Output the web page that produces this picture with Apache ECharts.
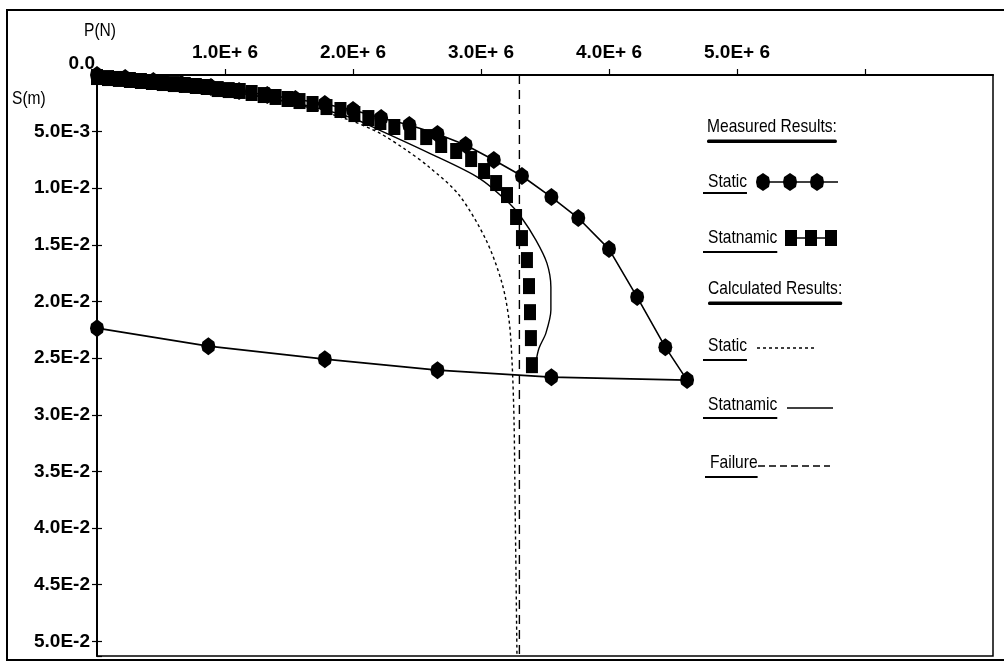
<!DOCTYPE html>
<html>
<head>
<meta charset="utf-8">
<script src="https://cdn.jsdelivr.net/npm/echarts@6/dist/echarts.min.js"></script>
<style>
html, body { margin: 0; padding: 0; background: #fff; }
#chart { width: 1004px; height: 663px; }
</style>
</head>
<body>
<div id="chart"></div>
<script>
// Load P in N, settlement S in m.

// Measured static load test (loading, then unloading)
const measuredStaticP = [0, 0.22e6, 0.44e6, 0.66e6, 0.89e6, 1.11e6, 1.33e6, 1.55e6, 1.78e6, 2.00e6,
  2.22e6, 2.44e6, 2.66e6, 2.88e6, 3.10e6, 3.32e6, 3.55e6, 3.76e6, 4.00e6, 4.22e6, 4.44e6, 4.61e6,
  3.55e6, 2.66e6, 1.78e6, 0.87e6, 0];
const measuredStaticS = [0, 0.27e-3, 0.53e-3, 0.80e-3, 1.06e-3, 1.41e-3, 1.77e-3, 2.12e-3, 2.56e-3, 3.09e-3,
  3.80e-3, 4.42e-3, 5.21e-3, 6.18e-3, 7.51e-3, 8.92e-3, 10.78e-3, 12.63e-3, 15.37e-3, 19.61e-3, 24.03e-3, 26.94e-3,
  26.68e-3, 26.06e-3, 25.09e-3, 23.94e-3, 22.35e-3];

// Measured statnamic test
const measuredStatnamicP = [0, 0.086e6, 0.171e6, 0.257e6, 0.343e6, 0.429e6, 0.514e6, 0.600e6, 0.686e6, 0.772e6,
  0.857e6, 0.943e6, 1.029e6, 1.115e6, 1.208e6, 1.302e6, 1.395e6, 1.489e6, 1.582e6, 1.684e6,
  1.793e6, 1.902e6, 2.011e6, 2.120e6, 2.214e6, 2.323e6, 2.447e6, 2.572e6, 2.689e6, 2.806e6,
  2.923e6, 3.024e6, 3.118e6, 3.203e6, 3.274e6, 3.320e6, 3.359e6, 3.375e6, 3.383e6, 3.390e6, 3.398e6];
const measuredStatnamicS = [0.18e-3, 0.27e-3, 0.35e-3, 0.44e-3, 0.53e-3, 0.62e-3, 0.71e-3, 0.80e-3, 0.88e-3, 0.97e-3,
  1.06e-3, 1.24e-3, 1.33e-3, 1.41e-3, 1.59e-3, 1.77e-3, 1.94e-3, 2.12e-3, 2.30e-3, 2.56e-3,
  2.83e-3, 3.09e-3, 3.45e-3, 3.80e-3, 4.15e-3, 4.59e-3, 5.04e-3, 5.48e-3, 6.18e-3, 6.71e-3,
  7.42e-3, 8.48e-3, 9.54e-3, 10.60e-3, 12.54e-3, 14.40e-3, 16.34e-3, 18.64e-3, 20.94e-3, 23.23e-3, 25.62e-3];

// Calculated static curve
const calcStaticP = [0, 0.413e6, 0.803e6, 1.193e6, 1.582e6, 1.972e6, 2.206e6, 2.416e6, 2.595e6, 2.829e6,
  3.040e6, 3.164e6, 3.219e6, 3.242e6, 3.258e6, 3.266e6, 3.274e6, 3.281e6];
const calcStaticS = [0, 0.44e-3, 0.97e-3, 1.68e-3, 2.65e-3, 3.98e-3, 5.12e-3, 6.63e-3, 8.13e-3, 10.60e-3,
  14.58e-3, 18.37e-3, 21.64e-3, 25.18e-3, 30.48e-3, 37.54e-3, 44.61e-3, 51.33e-3];

// Calculated statnamic curve
const calcStatnamicP = [0, 0.803e6, 1.582e6, 1.972e6, 2.206e6, 2.595e6, 2.985e6, 3.219e6, 3.313e6, 3.429e6,
  3.515e6, 3.546e6, 3.546e6, 3.507e6, 3.453e6, 3.429e6];
const calcStatnamicS = [0.09e-3, 1.06e-3, 2.56e-3, 3.71e-3, 4.86e-3, 6.89e-3, 9.10e-3, 11.31e-3, 12.54e-3, 14.58e-3,
  16.61e-3, 18.73e-3, 20.76e-3, 22.79e-3, 24.12e-3, 25.35e-3];

// Failure load
const failureLoad = 3.30e6;

// Axis ranges and tick labels
const xMax = 7e6, xStep = 1e6;
const yMax = 0.0513, yStep = 0.005;
const xTickLabels = ['0.0', '1.0E+ 6', '2.0E+ 6', '3.0E+ 6', '4.0E+ 6', '5.0E+ 6', '', ''];
const yTickLabels = ['', '5.0E-3', '1.0E-2', '1.5E-2', '2.0E-2', '2.5E-2', '3.0E-2', '3.5E-2', '4.0E-2', '4.5E-2', '5.0E-2'];

const pairs = (xs, ys) => xs.map((x, i) => [x, ys[i]]);

const FONT = "'Liberation Sans', Arial, sans-serif";
const NARROW_SCALE = 0.82;   // condensed look for the legend and axis titles
const diamondPath = 'path://M0,-10 L6,-5 L7,0 L6,5 L0,10 L-6,5 L-7,0 L-6,-5 Z';

const chart = echarts.init(document.getElementById('chart'), null, { renderer: 'canvas' });

const yAxisBase = {
  type: 'value', inverse: true, position: 'left', min: 0, max: yMax, interval: yStep,
  splitLine: { show: false }
};

chart.setOption({
  animation: false,
  backgroundColor: '#fff',
  grid: { left: 97, top: 75, right: 11, bottom: 7, show: true, borderColor: '#000', borderWidth: 1.5 },
  xAxis: {
    type: 'value', position: 'top', min: 0, max: xMax, interval: xStep,
    splitLine: { show: false },
    axisLine: { lineStyle: { color: '#000', width: 2 } },
    axisTick: { show: true, inside: false, length: 6, lineStyle: { color: '#000', width: 1.2 } },
    axisLabel: {
      margin: 13, color: '#000', fontFamily: FONT, fontWeight: 'bold', fontSize: 19,
      showMaxLabel: false,
      formatter: v => { const i = Math.round(v / xStep); return i === 0 ? '' : (xTickLabels[i] || ''); }
    }
  },
  yAxis: [
    Object.assign({}, yAxisBase, {
      axisLine: { lineStyle: { color: '#000', width: 2 } },
      axisTick: { show: true, inside: false, length: 5, lineStyle: { color: '#000', width: 1.2 } },
      axisLabel: {
        margin: 7, color: '#000', fontFamily: FONT, fontWeight: 'bold', fontSize: 19,
        showMaxLabel: false,
        formatter: v => yTickLabels[Math.round(v / yStep)] || ''
      }
    }),
    Object.assign({}, yAxisBase, {
      offset: 0,
      axisLine: { show: false },
      axisTick: { show: true, inside: true, length: 5, lineStyle: { color: '#000', width: 1.2 } },
      axisLabel: { show: false }
    })
  ],
  series: [
    {
      name: 'Failure', type: 'line', data: [[failureLoad, 0], [failureLoad, yMax]],
      showSymbol: false, lineStyle: { color: '#000', width: 1.4, type: [9, 6] }, z: 2
    },
    {
      name: 'Calculated Static', type: 'line', data: pairs(calcStaticP, calcStaticS), smooth: 0.3,
      showSymbol: false, lineStyle: { color: '#000', width: 1.4, type: [3, 3] }, z: 2
    },
    {
      name: 'Calculated Statnamic', type: 'line', data: pairs(calcStatnamicP, calcStatnamicS), smooth: 0.3,
      showSymbol: false, lineStyle: { color: '#000', width: 1.4 }, z: 2
    },
    {
      name: 'Measured Static', type: 'line', data: pairs(measuredStaticP, measuredStaticS),
      symbol: diamondPath, symbolSize: [14, 18], showAllSymbol: true,
      itemStyle: { color: '#000', opacity: 1 }, lineStyle: { color: '#000', width: 1.6 }, z: 3
    },
    {
      name: 'Measured Statnamic', type: 'scatter', data: pairs(measuredStatnamicP, measuredStatnamicS),
      symbol: 'rect', symbolSize: [12, 16], itemStyle: { color: '#000', opacity: 1 }, z: 4
    }
  ]
});

// Text width helper for underlines
const measureCtx = document.createElement('canvas').getContext('2d');
function textWidth(str, size, weight) {
  measureCtx.font = (weight || 'normal') + ' ' + size + 'px ' + FONT;
  return measureCtx.measureText(str).width;
}

const graphics = [];

// Outer frame
graphics.push({ type: 'polyline', silent: true, shape: { points: [[1004, 10], [7, 10], [7, 660], [1004, 660]] },
  style: { stroke: '#000', lineWidth: 2, fill: null } });

// Origin label and axis titles
const origin = chart.convertToPixel({ xAxisIndex: 0, yAxisIndex: 0 }, [0, 0]);
graphics.push({ type: 'text', silent: true, x: origin[0] - 2, y: origin[1] - 11,
  style: { text: xTickLabels[0], fill: '#000', font: 'bold 19px ' + FONT, align: 'right', verticalAlign: 'middle' } });
graphics.push({ type: 'text', silent: true, x: 100, y: 31, scaleX: NARROW_SCALE,
  style: { text: 'P(N)', fill: '#000', font: 'normal 19px ' + FONT, align: 'center', verticalAlign: 'middle' } });
graphics.push({ type: 'text', silent: true, x: 12, y: 99, scaleX: NARROW_SCALE,
  style: { text: 'S(m)', fill: '#000', font: 'normal 19px ' + FONT, align: 'left', verticalAlign: 'middle' } });

// Legend block
function legendLabel(text, x, cy, ulY, heading) {
  const size = 19;
  const w = textWidth(text, size, 'normal') * NARROW_SCALE;
  graphics.push({ type: 'text', silent: true, x: x, y: cy, scaleX: NARROW_SCALE,
    style: { text: text, fill: '#000', font: 'normal ' + size + 'px ' + FONT, align: 'left', verticalAlign: 'middle' } });
  const x0 = heading ? x : x - 5;
  graphics.push({ type: 'rect', silent: true,
    shape: { x: x0, y: ulY - (heading ? 1.5 : 1), width: x + w - x0, height: heading ? 3.5 : 2, r: heading ? 1.5 : 0 },
    style: { fill: '#000' } });
}
function hLine(x1, x2, y, dash, width) {
  graphics.push({ type: 'line', silent: true, shape: { x1: x1, y1: y, x2: x2, y2: y },
    style: { stroke: '#000', lineWidth: width || 1.4, lineDash: dash || null } });
}

legendLabel('Measured Results:', 707, 127, 141, true);
legendLabel('Static', 708, 182, 193, false);
hLine(757, 838, 182, null, 1.6);
[763, 790, 817].forEach(cx => graphics.push({ type: 'polygon', silent: true,
  shape: { points: [[cx, 173], [cx + 6, 177], [cx + 7, 182], [cx + 6, 187], [cx, 191], [cx - 6, 187], [cx - 7, 182], [cx - 6, 177]] },
  style: { fill: '#000' } }));

legendLabel('Statnamic', 708, 238, 252, false);
hLine(791, 831, 238, null, 1.6);
[791, 811, 831].forEach(cx => graphics.push({ type: 'rect', silent: true,
  shape: { x: cx - 6, y: 230, width: 12, height: 16 }, style: { fill: '#000' } }));

legendLabel('Calculated Results:', 708, 289, 303, true);
legendLabel('Static', 708, 346, 360, false);
hLine(757, 815, 348, [3, 3], 1.3);
legendLabel('Statnamic', 708, 405, 418, false);
hLine(787, 833, 408, null, 1.4);
legendLabel('Failure', 710, 463, 477, false);
hLine(758, 830, 466, [7, 4], 1.3);

chart.setOption({ graphic: graphics });
</script>
</body>
</html>
